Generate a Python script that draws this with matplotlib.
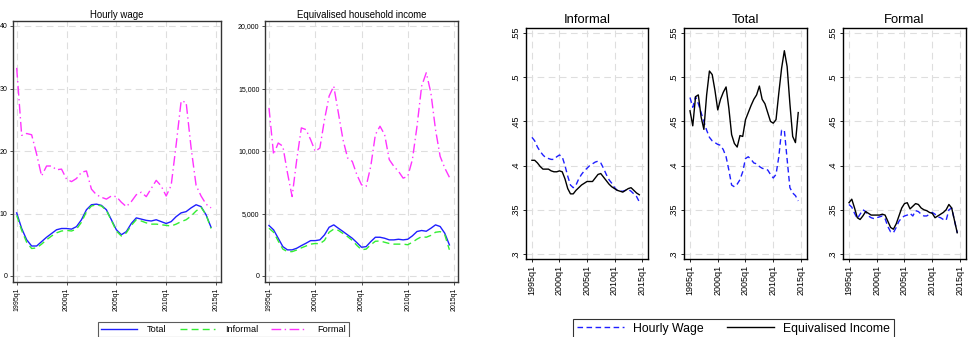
import numpy as np
import matplotlib
matplotlib.use("Agg")
import matplotlib.pyplot as plt
from matplotlib.lines import Line2D

plt.rcParams["font.family"] = ["Liberation Sans", "DejaVu Sans"]

# half-year grid, 1995q1 .. 2014q3
t = np.arange(1995.0, 2014.75, 0.5)
xticks = [1995, 2000, 2005, 2010, 2015]
xlabels = ["1995q1", "2000q1", "2005q1", "2010q1", "2015q1"]

# --- left graph: levels ---
wage_total = [10.1, 7.6, 5.8, 4.8, 4.8, 5.5, 6.2, 6.8, 7.4, 7.6,
              7.6, 7.5, 7.9, 9.0, 10.6, 11.4, 11.5, 11.3, 10.6, 9.0,
              7.4, 6.6, 7.1, 8.4, 9.3, 9.1, 8.9, 8.8, 9.0, 8.7,
              8.4, 8.7, 9.5, 10.1, 10.3, 10.9, 11.4, 11.1, 9.8, 7.8]
wage_informal = [9.7, 7.3, 5.4, 4.4, 4.5, 5.1, 5.8, 6.4, 6.9, 7.2,
                 7.3, 7.2, 7.5, 8.6, 10.3, 11.2, 11.4, 11.2, 10.5, 8.9,
                 7.2, 6.4, 6.9, 8.1, 9.0, 8.8, 8.5, 8.3, 8.3, 8.2,
                 8.1, 8.0, 8.3, 8.7, 9.0, 9.6, 10.4, 11.0, 9.8, 7.6]
wage_formal = [33.3, 22.5, 22.8, 22.6, 19.5, 16.0, 17.6, 17.6, 17.0, 17.1,
               15.5, 15.1, 15.6, 16.6, 16.8, 13.9, 13.0, 12.6, 12.3, 12.8,
               12.7, 11.8, 11.1, 11.9, 13.0, 13.4, 12.7, 14.0, 15.3, 14.4,
               12.8, 14.5, 21.0, 28.0, 27.8, 20.5, 14.5, 12.8, 11.5, 10.9]

inc_total = [4040, 3690, 3020, 2350, 2090, 2090, 2220, 2430, 2620, 2830,
             2830, 2890, 3290, 3900, 4090, 3820, 3560, 3290, 3020, 2670,
             2300, 2350, 2750, 3100, 3100, 3020, 2890, 2890, 2940, 2890,
             2940, 3210, 3560, 3640, 3580, 3820, 4090, 3960, 3420, 2490]
inc_informal = [3820, 3500, 2800, 2150, 1950, 1950, 2080, 2250, 2400, 2550,
                2600, 2580, 2850, 3500, 3750, 3650, 3400, 3150, 2850, 2450,
                2100, 2150, 2500, 2780, 2800, 2700, 2600, 2550, 2550, 2550,
                2500, 2700, 2950, 3150, 3100, 3250, 3500, 3550, 3300, 2100]
inc_formal = [13450, 9710, 10640, 10380, 8240, 6360, 9300, 11850, 11710, 10910,
              9970, 10240, 12510, 14390, 15190, 13050, 10910, 9440, 9170, 8100,
              7300, 7170, 8770, 11310, 11980, 11310, 9310, 8770, 8370, 7830,
              7970, 9310, 11980, 15190, 16260, 14650, 11710, 9570, 8640, 7900]

# --- right graph: inequality ---
gini_wage = {
    "Informal": [.432, .428, .421, .416, .412, .409, .408, .407, .407, .410,
                 .412, .410, .400, .388, .378, .375, .378, .385, .390, .394,
                 .397, .400, .402, .404, .405, .403, .397, .390, .384, .380,
                 .375, .372, .371, .371, .372, .373, .371, .368, .365, .359],
    "Total": [.477, .466, .478, .470, .460, .450, .440, .432, .428, .426,
              .424, .423, .418, .410, .395, .378, .376, .379, .384, .393,
              .408, .410, .407, .403, .402, .399, .397, .396, .395, .390,
              .386, .390, .410, .440, .440, .407, .375, .369, .366, .360],
    "Formal": [.356, .353, .346, .340, .345, .350, .348, .343, .341, .340,
               .341, .342, .343, .340, .331, .325, .324, .330, .337, .341,
               .343, .344, .346, .343, .349, .348, .345, .343, .343, .345,
               .347, .345, .342, .341, .339, .338, .350, .352, .338, .324],
}
gini_inc = {
    "Informal": [.406, .406, .403, .399, .396, .396, .396, .394, .393, .393,
                 .394, .393, .385, .374, .368, .368, .372, .375, .378, .380,
                 .382, .382, .382, .386, .390, .391, .387, .383, .379, .376,
                 .374, .372, .371, .370, .372, .374, .375, .372, .369, .367],
    "Total": [.462, .445, .478, .480, .455, .441, .480, .507, .503, .485,
              .463, .475, .483, .489, .465, .435, .425, .421, .434, .433,
              .452, .460, .468, .475, .480, .490, .475, .470, .460, .450,
              .448, .452, .482, .510, .530, .512, .470, .433, .426, .460],
    "Formal": [.358, .362, .352, .341, .339, .343, .348, .346, .344, .344,
               .344, .344, .345, .344, .337, .330, .328, .334, .343, .352,
               .357, .358, .351, .354, .357, .356, .352, .350, .349, .347,
               .346, .341, .343, .345, .347, .350, .356, .352, .338, .324],
}
gini_ticks = [.3, .35, .4, .45, .5, .55]
gini_labels = [".3", ".35", ".4", ".45", ".5", ".55"]

W, H = 972, 337
fig = plt.figure(figsize=(W / 100, H / 100), dpi=100)


def box(l, t_, r, b):
    return [l / W, 1 - b / H, (r - l) / W, (b - t_) / H]


BLUE, GREEN, MAG = "#1f1fff", "#33ee33", "#ff33ff"
GRID = dict(color="#dedede", lw=0.8, ls=(0, (6, 4)))
DASHDOT = (0, (7, 2.5, 1, 2.5))


def style(ax, frame, size):
    ax.grid(True, **GRID)
    ax.set_axisbelow(True)
    for s in ax.spines.values():
        s.set_color(frame)
        s.set_linewidth(1.0)
    ax.tick_params(labelsize=size, length=2.5, width=0.6, color=frame, pad=1.5)
    ax.set_xticks(xticks)
    ax.set_xticklabels(xlabels, rotation=90)


# left graph
ax1 = fig.add_axes(box(13, 21, 221, 282))
ax1.plot(t, wage_total, color=BLUE, lw=1)
ax1.plot(t, wage_informal, color=GREEN, lw=1, ls=(0, (5, 3)))
ax1.plot(t, wage_formal, color=MAG, lw=1, ls=DASHDOT)
ax1.set_xlim(1994.63, 2015.5)
ax1.set_ylim(-0.96, 40.8)
ax1.set_yticks([0, 10, 20, 30, 40])
style(ax1, "#333333", 5)
ax1.set_title("Hourly wage", fontsize=6.9, pad=2.5)

ax2 = fig.add_axes(box(265, 21, 458, 282))
ax2.plot(t, inc_total, color=BLUE, lw=1)
ax2.plot(t, inc_informal, color=GREEN, lw=1, ls=(0, (5, 3)))
ax2.plot(t, inc_formal, color=MAG, lw=1, ls=DASHDOT)
ax2.set_xlim(1994.57, 2015.43)
ax2.set_ylim(-480, 20400)
ax2.set_yticks([0, 5000, 10000, 15000, 20000])
ax2.set_yticklabels(["0", "5,000", "10,000", "15,000", "20,000"])
style(ax2, "#333333", 5)
ax2.set_title("Equivalised household income", fontsize=6.9, pad=2.5)

h_left = [Line2D([], [], color=BLUE, lw=1),
          Line2D([], [], color=GREEN, lw=1, ls=(0, (5, 3))),
          Line2D([], [], color=MAG, lw=1, ls=DASHDOT)]
leg = fig.legend(h_left, ["Total", "Informal", "Formal"], ncol=3,
                 loc="upper left", bbox_to_anchor=(98 / W, 1 - 322 / H),
                 fontsize=6.6, handlelength=3.9, handletextpad=1.1,
                 columnspacing=1.4, borderpad=0.35, fancybox=False,
                 borderaxespad=0)
leg.get_frame().set_edgecolor("#333333")
leg.get_frame().set_linewidth(0.8)

# right graph
panels = [("Informal", 526, 648), ("Total", 684, 807), ("Formal", 843, 966)]
for name, l, r in panels:
    ax = fig.add_axes(box(l, 28, r, 259))
    ax.plot(t, gini_wage[name], color=BLUE, lw=1, ls=(0, (4, 2.5)))
    ax.plot(t, gini_inc[name], color="black", lw=1)
    ax.set_xlim(1993.92, 2016.08)
    ax.set_ylim(.2943, .5557)
    ax.set_yticks(gini_ticks)
    ax.set_yticklabels(gini_labels, rotation=90, va="center")
    style(ax, "black", 6.5)
    ax.set_title(name, fontsize=9.4, pad=3.5)

h_right = [Line2D([], [], color=BLUE, lw=1, ls=(0, (4, 2.5))),
           Line2D([], [], color="black", lw=1)]
leg2 = fig.legend(h_right, ["Hourly Wage", "Equivalised Income"], ncol=2,
                  loc="upper left", bbox_to_anchor=(573 / W, 1 - 319 / H),
                  fontsize=8.8, handlelength=3.9, handletextpad=0.7,
                  columnspacing=1.9, borderpad=0.3, fancybox=False,
                  borderaxespad=0)
leg2.get_frame().set_edgecolor("black")
leg2.get_frame().set_linewidth(0.8)

fig.savefig("out.png", dpi=100)
